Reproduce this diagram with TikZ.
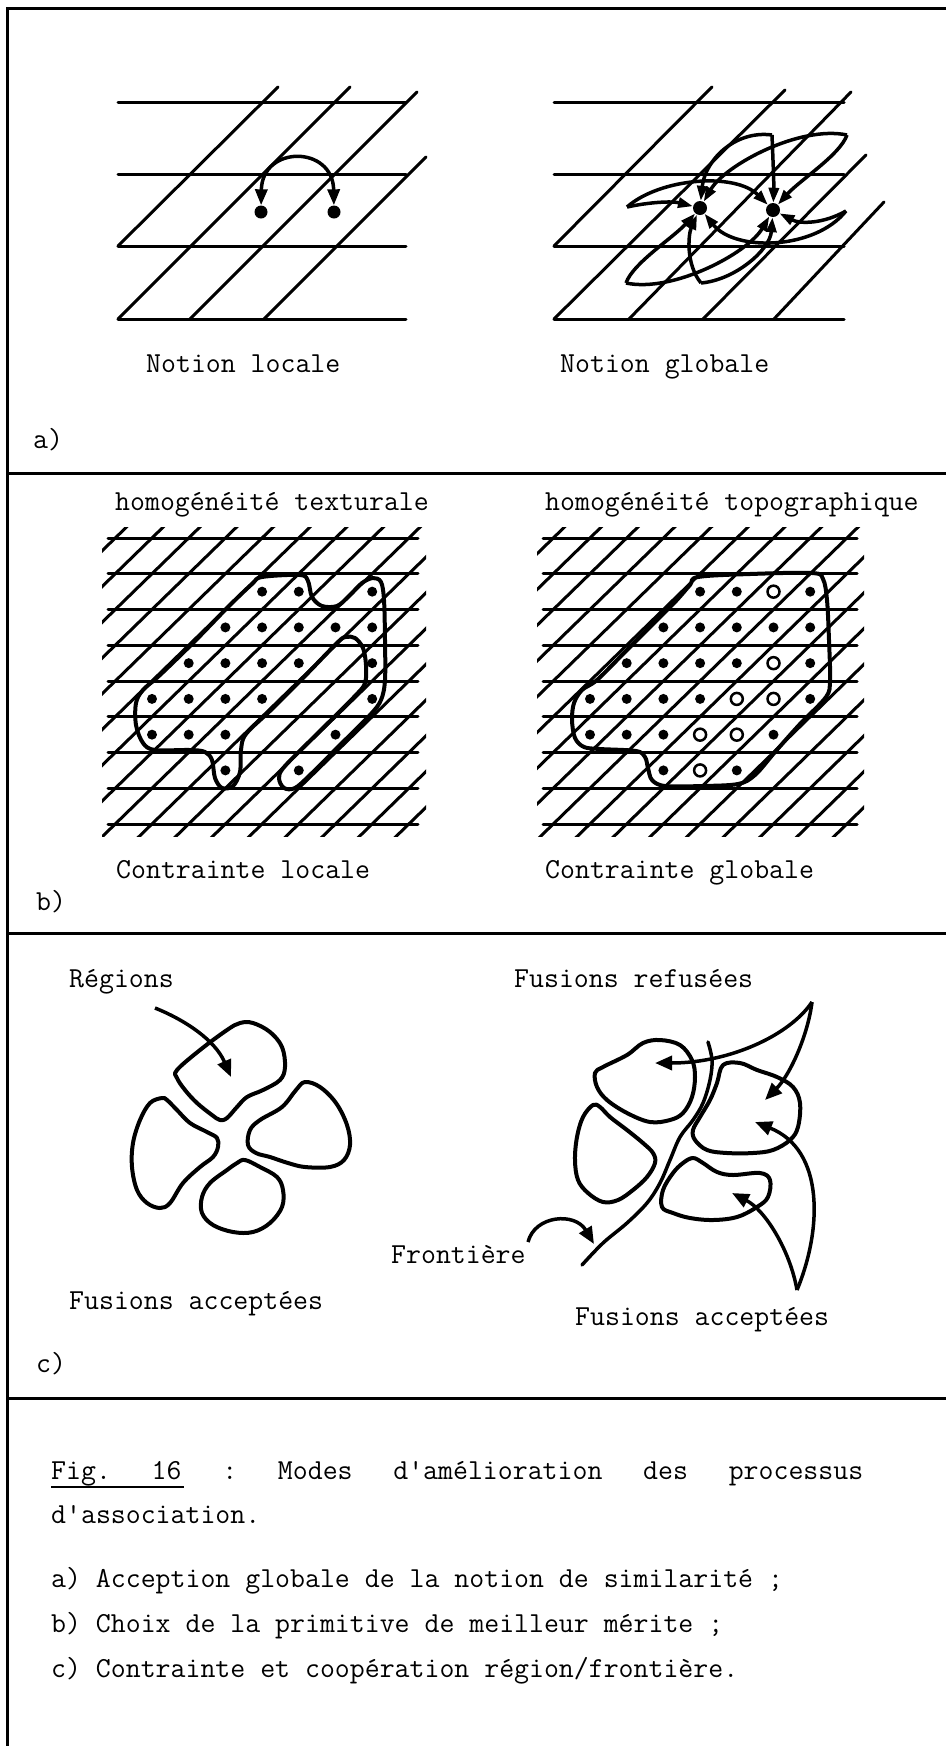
\documentclass[tikz,border=0pt]{standalone}
\usetikzlibrary{arrows.meta}
\begin{document}
\begin{tikzpicture}[x=1pt,y=-1pt,
  frame/.style={line width=3pt},
  gridline/.style={line width=3pt, line cap=round},
  blob/.style={line width=4pt, line join=round},
  bigarr/.style={line width=3.5pt, -{Triangle[length=17pt,width=14pt]}},
  swarr/.style={line width=3.5pt, -{Triangle[length=15pt,width=10pt]}},
  lbl/.style={anchor=base west, inner sep=0pt, font=\fontsize{29}{34}\selectfont\ttfamily},
  fdot/.style={circle, fill, draw=none, inner sep=0pt, minimum size=10pt},
  odot/.style={circle, draw, line width=2.5pt, inner sep=0pt, minimum size=12pt}]
\useasboundingbox (0,0) rectangle (946,1746);
% frame
\draw[frame] (946,8) -- (7,8) -- (7,1746);
\draw[frame] (7,473) -- (946,473);
\draw[frame] (7,933) -- (946,933);
\draw[frame] (7,1398) -- (946,1398);

% ---------- section a, left grid
\foreach \y in {102,174,246,319} \draw[gridline] (118,\y) -- (406,\y);
\draw[gridline] (118,246) -- (278,87);
\draw[gridline] (118,319) -- (350,87);
\draw[gridline] (190,319) -- (417,92);
\draw[gridline] (264,319) -- (426,157);
\node[fdot, minimum size=13pt] (d1) at (261,212) {};
\node[fdot, minimum size=13pt] (d2) at (334,212) {};
\draw[line width=3.5pt, {Triangle[length=16pt,width=12pt]}-{Triangle[length=16pt,width=12pt]}]
  (d1) .. controls (262,145) and (333,145) .. (d2);

% ---------- section a, right grid
\foreach \y in {102,174,246,319} \draw[gridline] (554,\y) -- (844,\y);
\draw[gridline] (554,246) -- (712,87);
\draw[gridline] (554,319) -- (785,90);
\draw[gridline] (629,319) -- (851,92);
\draw[gridline] (703,319) -- (866,155);
\draw[gridline] (774,319) -- (884,202);
\node[fdot, minimum size=14pt] (P1) at (700,208) {};
\node[fdot, minimum size=14pt] (P2) at (773,210) {};
\coordinate (T1) at (627,207);
\coordinate (T2) at (772,135);
\coordinate (T3) at (847,135);
\coordinate (T4) at (846,211);
\coordinate (T5) at (626,283);
\coordinate (T6) at (701,283);
\draw[swarr] (T1) .. controls (650,202) and (672,201) .. (P1);
\draw[swarr] (T1) .. controls (660,178) and (735,172) .. (P2);
\draw[swarr] (T2) .. controls (773,160) and (774,185) .. (P2);
\draw[swarr] (T2) .. controls (735,130) and (705,160) .. (P1);
\draw[swarr] (T3) .. controls (840,155) and (800,180) .. (P2);
\draw[swarr] (T3) .. controls (800,125) and (725,165) .. (P1);
\draw[swarr] (T4) .. controls (823,224) and (800,224) .. (P2);
\draw[swarr] (T4) .. controls (815,250) and (735,252) .. (P1);
\draw[swarr] (T5) .. controls (633,263) and (673,238) .. (P1);
\draw[swarr] (T5) .. controls (673,293) and (748,253) .. (P2);
\draw[swarr] (T6) .. controls (686,265) and (688,235) .. (P1);
\draw[swarr] (T6) .. controls (735,280) and (770,250) .. (P2);

\node[lbl] (nl) at (146,372) {Notion locale};
\node[lbl] (ng) at (560,372) {Notion globale};
\node[lbl] (la) at (33,448) {a)};

% ---------- section b, grids
\begin{scope}
  \clip (102,527) rectangle (426,836);
  \foreach \k in {-4,...,14} \draw[gridline] ({-96.6+36.7*\k},851.6) -- ({273.0+36.7*\k},491.6);
\end{scope}
\foreach \j in {0,...,8} \draw[gridline] (108,{538+35.75*\j}) -- (418,{538+35.75*\j});
\begin{scope}
  \clip (537,527) rectangle (864,836);
  \foreach \k in {-4,...,14} \draw[gridline] ({341.4+36.7*\k},851.6) -- ({711.0+36.7*\k},491.6);
\end{scope}
\foreach \j in {0,...,8} \draw[gridline] (543,{538+35.75*\j}) -- (857,{538+35.75*\j});

% left blob
\draw[blob] plot[smooth cycle, tension=0.55] coordinates {
 (262,577) (300,575) (308,581) (312,597) (322,606) (337,606) (349,596) (362,583) (373,578) (381,582)
 (384,600) (385,640) (385,680) (381,700) (370,715) (340,745) (310,775) (295,788) (284,788) (279,778)
 (285,766) (320,731) (355,696) (365,683) (366,665) (363,648) (355,638) (346,637) (338,642) (305,676)
 (272,709) (246,734) (241,750) (240,772) (233,786) (222,788) (215,778) (212,760) (205,752) (190,750)
 (155,750) (143,743) (136,725) (136,703) (143,690) (160,675) (195,641) (228,607) (252,584)};
% right blob
\draw[blob] plot[smooth cycle, tension=0.55] coordinates {
 (698,577) (750,574) (812,573) (823,579) (827,600) (829,640) (830,680) (826,697) (800,724) (775,752)
 (755,775) (738,784) (702,786) (665,786) (652,780) (648,768) (645,757) (636,751) (600,749) (584,747)
 (575,738) (572,720) (574,703) (582,690) (597,680) (625,652) (650,627) (675,602) (690,585)};

\foreach \c/\r in {3/1,4/1,6/1,2/2,3/2,4/2,5/2,6/2,1/3,2/3,3/3,4/3,6/3,0/4,1/4,2/4,3/4,6/4,0/5,1/5,2/5,5/5,2/6,4/6}{
  \node[fdot] (bl-\c-\r) at ({152+36.7*\c},{555.9+35.75*\r}) {};
  \node[fdot] (br-\c-\r) at ({590+36.7*\c},{555.9+35.75*\r}) {};
}
\foreach \c/\r in {5/1,5/3,4/4,5/4,3/5,4/5,3/6}
  \node[odot] (bo-\c-\r) at ({590+36.7*\c},{555.9+35.75*\r}) {};

\node[lbl] (ht) at (115,510) {homogénéité texturale};
\node[lbl] (hp) at (545,510) {homogénéité topographique};
\node[lbl] (cl) at (116,878) {Contrainte locale};
\node[lbl] (cg) at (545,878) {Contrainte globale};
\node[lbl] (lb) at (36,910) {b)};

% ---------- section c, left cluster
\draw[blob] plot[smooth cycle, tension=0.6] coordinates {
 (177,1070) (200,1050) (227,1030) (240,1023) (253,1023) (270,1032) (282,1047) (285,1067) (280,1080)
 (263,1090) (247,1097) (237,1107) (227,1118) (220,1120) (212,1115) (197,1103) (185,1090) (177,1078)};
\draw[blob] plot[smooth cycle, tension=0.6] coordinates {
 (162,1098) (150,1103) (140,1120) (133,1143) (132,1167) (137,1190) (147,1203) (160,1208) (170,1203)
 (183,1183) (200,1167) (213,1157) (218,1147) (217,1138) (207,1132) (190,1123) (177,1110) (167,1100)};
\draw[blob] plot[smooth cycle, tension=0.6] coordinates {
 (250,1130) (260,1120) (282,1107) (296,1090) (305,1082) (320,1087) (336,1103) (347,1125) (350,1145)
 (344,1160) (330,1167) (305,1167) (288,1163) (270,1157) (256,1153) (248,1145)};
\draw[blob] plot[smooth cycle, tension=0.6] coordinates {
 (245,1160) (260,1167) (277,1177) (283,1190) (282,1207) (270,1223) (253,1232) (233,1232) (213,1225)
 (202,1213) (202,1197) (210,1183) (227,1170) (237,1163)};
\coordinate (ra) at (155,1008);
\coordinate (rb) at (231,1077);
\draw[bigarr] (ra) .. controls (185,1020) and (215,1040) .. (rb);

\node[lbl] (reg) at (69,987) {Régions};
\node[lbl] (fal) at (69,1309) {Fusions acceptées};
\node[lbl] (lc) at (36,1372) {c)};

% ---------- section c, right cluster
\draw[blob] plot[smooth cycle, tension=0.6] coordinates {
 (660,1040) (680,1045) (692,1060) (695,1077) (692,1097) (683,1113) (670,1120) (650,1122) (627,1113)
 (607,1100) (597,1087) (595,1073) (603,1067) (627,1055) (643,1043)};
\draw[blob] plot[smooth cycle, tension=0.6] coordinates {
 (593,1105) (583,1117) (577,1137) (575,1160) (578,1180) (588,1193) (603,1202) (618,1200) (633,1190)
 (647,1177) (655,1163) (653,1153) (643,1143) (627,1130) (610,1117) (600,1107)};
\draw[blob] plot[smooth cycle, tension=0.6] coordinates {
 (723,1065) (740,1063) (757,1070) (777,1077) (793,1087) (800,1103) (798,1127) (790,1140) (773,1150)
 (753,1153) (727,1153) (707,1150) (695,1140) (693,1130) (700,1117) (710,1100) (717,1083)};
\draw[blob] plot[smooth cycle, tension=0.6] coordinates {
 (693,1158) (703,1163) (717,1172) (733,1175) (760,1173) (770,1180) (768,1197) (757,1207) (737,1217)
 (713,1220) (690,1218) (673,1213) (662,1207) (663,1190) (673,1173) (683,1163)};
% frontiere line
\draw[line width=3.5pt, line cap=round] plot[smooth, tension=0.6] coordinates {
 (582,1265) (603,1243) (627,1223) (647,1203) (660,1183) (670,1160) (680,1137) (693,1120) (703,1103)
 (710,1080) (712,1060) (708,1042)};
\coordinate (Q1) at (812,1002);
\coordinate (Q2) at (797,1290);
\coordinate (tA) at (655,1063);
\coordinate (tB) at (765,1100);
\coordinate (tC) at (755,1122);
\coordinate (tD) at (732,1193);
\draw[bigarr] (Q1) .. controls (790,1035) and (730,1063) .. (tA);
\draw[bigarr] (Q1) .. controls (808,1035) and (790,1075) .. (tB);
\draw[bigarr] (Q2) .. controls (822,1230) and (825,1150) .. (tC);
\draw[bigarr] (Q2) .. controls (790,1250) and (765,1210) .. (tD);
\coordinate (fa) at (528,1242);
\coordinate (fb) at (594,1244);
\draw[bigarr] (fa) .. controls (535,1215) and (575,1212) .. (fb);

\node[lbl] (fr) at (514,987) {Fusions refusées};
\node[lbl] (fro) at (391,1263) {Frontière};
\node[lbl] (far) at (575,1325) {Fusions acceptées};

% ---------- caption
\node[lbl] (cap1) at (51,1479) {\hbox to 812pt{Fig.\hfill 16\hfill :\hfill Modes\hfill d'amélioration\hfill des\hfill processus}};
\draw[line width=1.5pt] (51,1487) -- (184,1487);
\node[lbl] (cap2) at (51,1523) {d'association.};
\node[lbl] (cap3) at (51,1587) {a) Acception globale de la notion de similarité ;};
\node[lbl] (cap4) at (51,1632) {b) Choix de la primitive de meilleur mérite ;};
\node[lbl] (cap5) at (51,1677) {c) Contrainte et coopération région/frontière.};
\end{tikzpicture}
\end{document}
